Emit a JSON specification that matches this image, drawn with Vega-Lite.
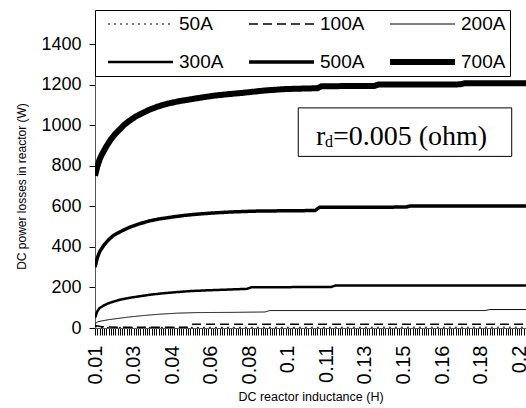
{
  "$schema": "https://vega.github.io/schema/vega-lite/v6.json",
  "width": 431,
  "height": 284,
  "autosize": {"type": "none"},
  "padding": {"left": 95, "top": 44, "right": 0, "bottom": 80},
  "background": "white",
  "config": {"view": {"stroke": null}, "font": "Liberation Sans"},
  "layer": [
    {
      "data": {"values": [
        {"L": 0.010, "P": 8, "I": "50A"}, {"L": 0.012, "P": 3, "I": "50A"}, {"L": 0.200, "P": 4, "I": "50A"},
        {"L": 0.010, "P": 12, "I": "100A"}, {"L": 0.013, "P": 6, "I": "100A"}, {"L": 0.020, "P": 4, "I": "100A"}, {"L": 0.051, "P": 4, "I": "100A"}, {"L": 0.053, "P": 18, "I": "100A"}, {"L": 0.200, "P": 18, "I": "100A"},
        {"L": 0.010, "P": 18, "I": "200A"}, {"L": 0.011, "P": 30, "I": "200A"}, {"L": 0.013, "P": 35, "I": "200A"}, {"L": 0.016, "P": 41, "I": "200A"}, {"L": 0.020, "P": 47, "I": "200A"}, {"L": 0.025, "P": 54, "I": "200A"}, {"L": 0.030, "P": 60, "I": "200A"}, {"L": 0.035, "P": 65, "I": "200A"}, {"L": 0.040, "P": 69, "I": "200A"}, {"L": 0.046, "P": 73, "I": "200A"}, {"L": 0.055, "P": 76, "I": "200A"}, {"L": 0.070, "P": 77, "I": "200A"}, {"L": 0.085, "P": 79, "I": "200A"}, {"L": 0.087, "P": 86, "I": "200A"}, {"L": 0.182, "P": 86, "I": "200A"}, {"L": 0.184, "P": 91, "I": "200A"}, {"L": 0.200, "P": 91, "I": "200A"},
        {"L": 0.010, "P": 50, "I": "300A"}, {"L": 0.011, "P": 82, "I": "300A"}, {"L": 0.012, "P": 98, "I": "300A"}, {"L": 0.014, "P": 112, "I": "300A"}, {"L": 0.016, "P": 122, "I": "300A"}, {"L": 0.019, "P": 133, "I": "300A"}, {"L": 0.022, "P": 142, "I": "300A"}, {"L": 0.026, "P": 150, "I": "300A"}, {"L": 0.030, "P": 157, "I": "300A"}, {"L": 0.035, "P": 165, "I": "300A"}, {"L": 0.040, "P": 171, "I": "300A"}, {"L": 0.046, "P": 177, "I": "300A"}, {"L": 0.052, "P": 182, "I": "300A"}, {"L": 0.060, "P": 186, "I": "300A"}, {"L": 0.070, "P": 190, "I": "300A"}, {"L": 0.077, "P": 193, "I": "300A"}, {"L": 0.079, "P": 201, "I": "300A"}, {"L": 0.114, "P": 202, "I": "300A"}, {"L": 0.116, "P": 209, "I": "300A"}, {"L": 0.200, "P": 209, "I": "300A"},
        {"L": 0.010, "P": 300, "I": "500A"}, {"L": 0.011, "P": 345, "I": "500A"}, {"L": 0.012, "P": 375, "I": "500A"}, {"L": 0.014, "P": 410, "I": "500A"}, {"L": 0.016, "P": 435, "I": "500A"}, {"L": 0.018, "P": 455, "I": "500A"}, {"L": 0.020, "P": 468, "I": "500A"}, {"L": 0.023, "P": 485, "I": "500A"}, {"L": 0.026, "P": 500, "I": "500A"}, {"L": 0.030, "P": 515, "I": "500A"}, {"L": 0.034, "P": 528, "I": "500A"}, {"L": 0.038, "P": 537, "I": "500A"}, {"L": 0.044, "P": 547, "I": "500A"}, {"L": 0.050, "P": 556, "I": "500A"}, {"L": 0.056, "P": 562, "I": "500A"}, {"L": 0.062, "P": 567, "I": "500A"}, {"L": 0.070, "P": 572, "I": "500A"}, {"L": 0.080, "P": 576, "I": "500A"}, {"L": 0.095, "P": 578, "I": "500A"}, {"L": 0.107, "P": 579, "I": "500A"}, {"L": 0.109, "P": 595, "I": "500A"}, {"L": 0.147, "P": 596, "I": "500A"}, {"L": 0.149, "P": 602, "I": "500A"}, {"L": 0.200, "P": 602, "I": "500A"},
        {"L": 0.010, "P": 750, "I": "700A"}, {"L": 0.011, "P": 795, "I": "700A"}, {"L": 0.012, "P": 830, "I": "700A"}, {"L": 0.013, "P": 855, "I": "700A"}, {"L": 0.015, "P": 895, "I": "700A"}, {"L": 0.017, "P": 930, "I": "700A"}, {"L": 0.019, "P": 958, "I": "700A"}, {"L": 0.021, "P": 980, "I": "700A"}, {"L": 0.023, "P": 1003, "I": "700A"}, {"L": 0.025, "P": 1020, "I": "700A"}, {"L": 0.028, "P": 1043, "I": "700A"}, {"L": 0.031, "P": 1060, "I": "700A"}, {"L": 0.034, "P": 1076, "I": "700A"}, {"L": 0.038, "P": 1093, "I": "700A"}, {"L": 0.042, "P": 1106, "I": "700A"}, {"L": 0.047, "P": 1118, "I": "700A"}, {"L": 0.053, "P": 1129, "I": "700A"}, {"L": 0.058, "P": 1138, "I": "700A"}, {"L": 0.063, "P": 1146, "I": "700A"}, {"L": 0.069, "P": 1153, "I": "700A"}, {"L": 0.075, "P": 1159, "I": "700A"}, {"L": 0.080, "P": 1165, "I": "700A"}, {"L": 0.085, "P": 1171, "I": "700A"}, {"L": 0.094, "P": 1178, "I": "700A"}, {"L": 0.108, "P": 1182, "I": "700A"}, {"L": 0.110, "P": 1192, "I": "700A"}, {"L": 0.133, "P": 1193, "I": "700A"}, {"L": 0.135, "P": 1200, "I": "700A"}, {"L": 0.171, "P": 1201, "I": "700A"}, {"L": 0.173, "P": 1207, "I": "700A"}, {"L": 0.200, "P": 1207, "I": "700A"}
      ]},
      "mark": {"type": "line", "color": "black", "strokeCap": "butt", "clip": true},
      "encoding": {
        "x": {
          "field": "L", "type": "quantitative",
          "scale": {"domain": [0.01, 0.2], "nice": false, "zero": false},
          "axis": {
            "title": "DC reactor inductance (H)",
            "tickCount": 190,
            "labelExpr": "(round((datum.value - 0.01) * 1000) % 17 == 0) ? format(datum.value, '.2~f') : ''",
            "labelAngle": -90, "labelFontSize": 20, "labelFont": "Liberation Sans", "labelColor": "black",
            "labelOverlap": false, "labelFlush": false, "labelPadding": 10,
            "tickSize": 7, "tickColor": "black", "tickWidth": 1,
            "domainColor": "#555", "grid": false,
            "titleFontSize": 12.5, "titleFontWeight": "normal", "titleColor": "black", "titleFont": "Liberation Sans", "titlePadding": 7
          }
        },
        "y": {
          "field": "P", "type": "quantitative",
          "scale": {"domain": [0, 1400], "nice": false},
          "axis": {
            "title": "DC power losses in reactor (W)",
            "values": [0, 200, 400, 600, 800, 1000, 1200, 1400],
            "format": "d",
            "labelFontSize": 18, "labelFont": "Liberation Sans", "labelColor": "black", "labelPadding": 8,
            "tickSize": 6, "tickColor": "black", "domainColor": "#555", "grid": false,
            "titleFontSize": 12, "titleFontWeight": "normal", "titleColor": "black", "titleFont": "Liberation Sans", "titlePadding": 12
          }
        },
        "strokeDash": {
          "field": "I", "type": "ordinal",
          "scale": {"domain": ["50A", "100A", "200A", "300A", "500A", "700A"], "range": [[2, 4], [9, 5], [1, 0], [1, 0], [1, 0], [1, 0]]},
          "legend": {
            "orient": "none", "legendX": 0, "legendY": -34, "direction": "horizontal", "columns": 3,
            "symbolType": "stroke", "symbolSize": 4225, "symbolStrokeColor": "black",
            "labelFontSize": 19, "labelFont": "Liberation Sans", "labelColor": "black",
            "labelExpr": "(datum.label == '200A' || datum.label == '700A') ? datum.label + '\u00a0\u00a0\u00a0\u00a0\u00a0' : datum.label",
            "clipHeight": 20, "rowPadding": 18, "columnPadding": 16, "padding": 4,
            "strokeColor": "black", "fillColor": "white", "title": null,
            "labelOffset": 3, "symbolOffset": 6
          }
        },
        "strokeWidth": {
          "field": "I", "type": "ordinal",
          "scale": {"type": "ordinal", "domain": ["50A", "100A", "200A", "300A", "500A", "700A"], "range": [1, 1.5, 1, 2.5, 3.5, 6]},
          "legend": {
            "orient": "none", "legendX": 0, "legendY": -34, "direction": "horizontal", "columns": 3,
            "symbolType": "stroke", "symbolSize": 4225, "symbolStrokeColor": "black",
            "labelFontSize": 19, "labelFont": "Liberation Sans", "labelColor": "black",
            "labelExpr": "(datum.label == '200A' || datum.label == '700A') ? datum.label + '\u00a0\u00a0\u00a0\u00a0\u00a0' : datum.label",
            "clipHeight": 20, "rowPadding": 18, "columnPadding": 16, "padding": 4,
            "strokeColor": "black", "fillColor": "white", "title": null,
            "labelOffset": 3, "symbolOffset": 6
          }
        }
      }
    },
    {
      "data": {"values": [{}]},
      "mark": {"type": "rect", "fill": "white", "stroke": "black", "strokeWidth": 1},
      "encoding": {
        "x": {"datum": 0.0996, "type": "quantitative"},
        "x2": {"datum": 0.1937},
        "y": {"datum": 1085, "type": "quantitative"},
        "y2": {"datum": 846}
      }
    },
    {
      "data": {"values": [{}]},
      "mark": {"type": "text", "text": "r", "font": "Liberation Serif", "fontSize": 28, "align": "left", "baseline": "alphabetic", "color": "black"},
      "encoding": {"x": {"datum": 0.1074, "type": "quantitative"}, "y": {"datum": 904, "type": "quantitative"}}
    },
    {
      "data": {"values": [{}]},
      "mark": {"type": "text", "text": "d", "font": "Liberation Serif", "fontSize": 16, "align": "left", "baseline": "alphabetic", "color": "black", "dx": 9, "dy": 2},
      "encoding": {"x": {"datum": 0.1074, "type": "quantitative"}, "y": {"datum": 904, "type": "quantitative"}}
    },
    {
      "data": {"values": [{}]},
      "mark": {"type": "text", "text": "=0.005 (ohm)", "font": "Liberation Serif", "fontSize": 28, "align": "left", "baseline": "alphabetic", "color": "black", "dx": 17},
      "encoding": {"x": {"datum": 0.1074, "type": "quantitative"}, "y": {"datum": 904, "type": "quantitative"}}
    }
  ]
}
